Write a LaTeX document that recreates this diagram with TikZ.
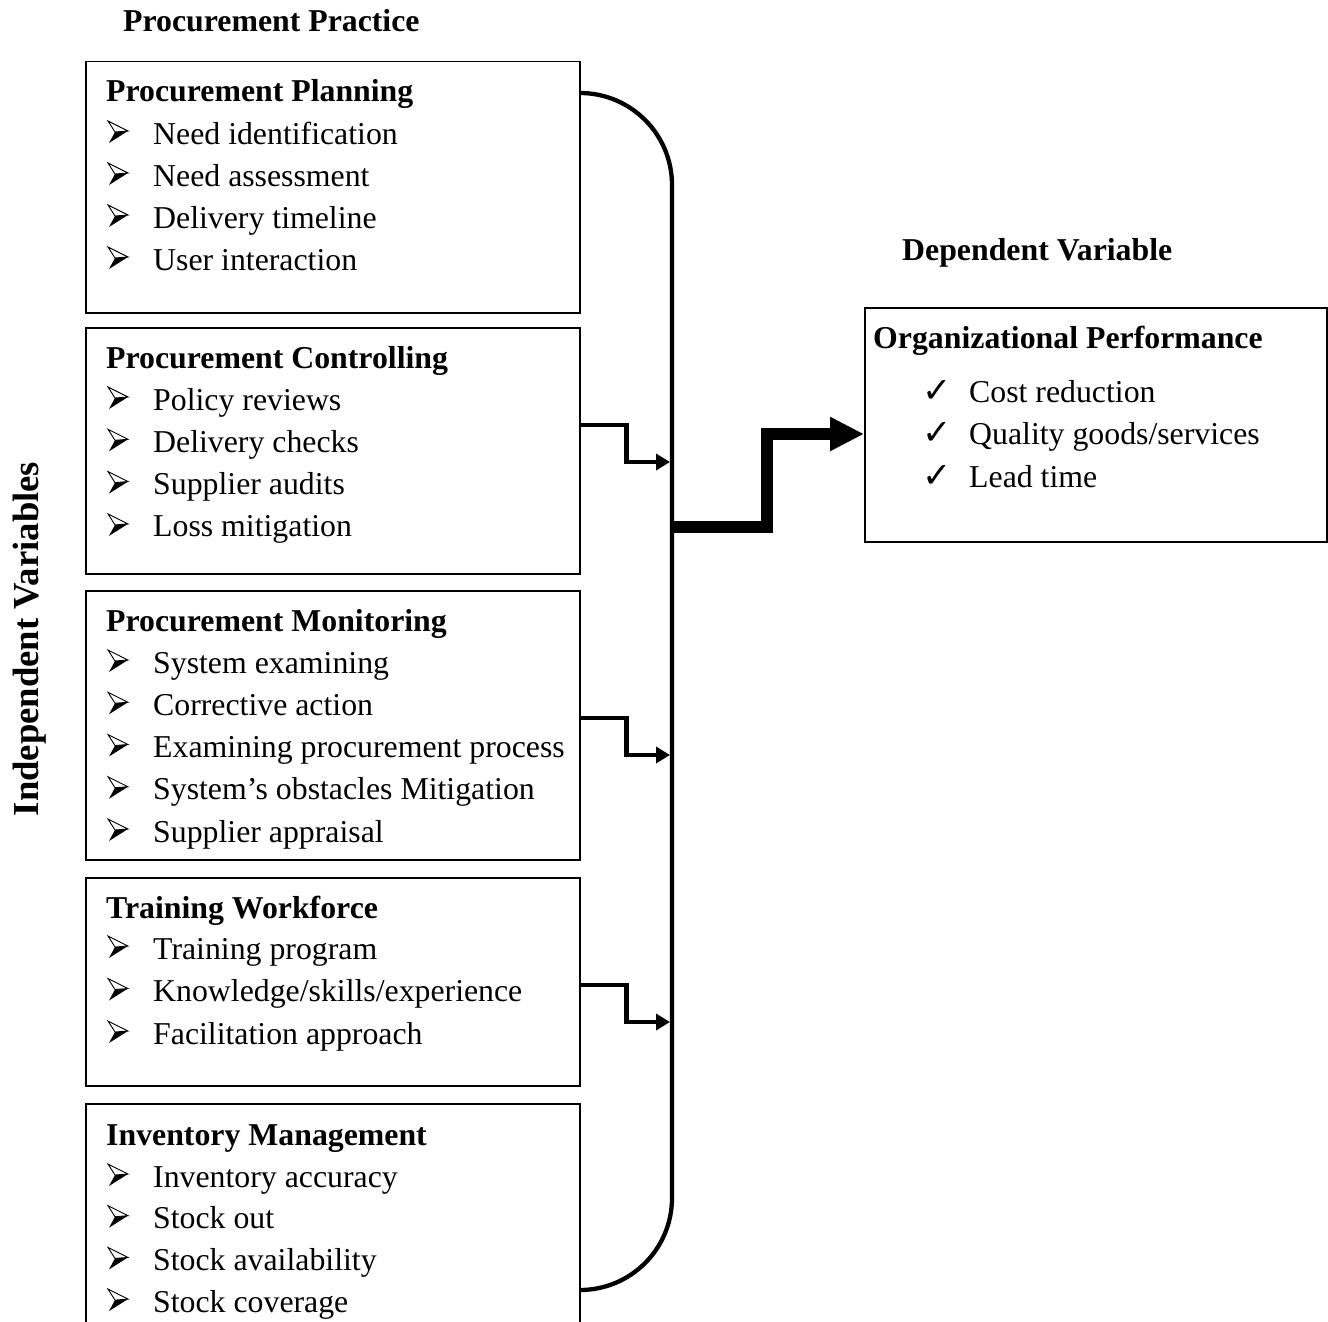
\documentclass[tikz,border=0pt]{standalone}
\usepackage{fontspec}
\setmainfont{Liberation Serif}
\newfontfamily\symfont{DejaVu Sans}
\usetikzlibrary{arrows.meta,calc}
\begin{document}
\begin{tikzpicture}[x=1pt,y=-1pt,
  box/.style={draw,line width=1.5pt,minimum width=494pt,anchor=north west,inner sep=0pt},
  txt/.style={anchor=base west,inner sep=0pt,font=\fontsize{31.8}{38}\selectfont},
  ttl/.style={anchor=base west,inner sep=0pt,font=\fontsize{31.8}{38}\selectfont\bfseries},
  chk/.style={anchor=base west,inner sep=0pt,font=\fontsize{35}{38}\symfont},
  conn/.style={line width=4.3pt},
  small/.style={line width=4.3pt,line join=miter,-{Triangle[length=14pt,width=16pt]}},
  big/.style={line width=12pt,line join=miter,-{Triangle[length=34pt,width=32pt]}},
  arrb/.pic={
    \fill[black,line join=round] (8,-12) -- (21,-13) -- (2,-1) -- cycle;
    \draw[line width=0.9pt,fill=white,line join=miter] (1,-23) -- (21,-13) -- (8,-12) -- cycle;
  }]
\useasboundingbox (0,0) rectangle (1328,1322);
\clip (0,0) rectangle (1328,1322);

% headers
\node[ttl] (hpp) at (123,32) {Procurement Practice};
\node[ttl] (hdv) at (902,260) {Dependent Variable};
\node[inner sep=0pt,rotate=90,font=\fontsize{36.7}{40}\selectfont\bfseries] (hiv) at (30,639) {Independent Variables};

% boxes
\node[box,minimum height=251pt] (b1) at (85,61) {};
\node[box,minimum height=246pt] (b2) at (85,327) {};
\node[box,minimum height=269pt] (b3) at (85,590) {};
\node[box,minimum height=208pt] (b4) at (85,877) {};
\node[box,minimum height=260pt] (b5) at (85,1103) {};
\node[draw,line width=1.5pt,minimum width=462pt,minimum height=234pt,anchor=north west,inner sep=0pt] (ob) at (864,307) {};

% box 1
\node[ttl] (t1) at (106,102) {Procurement Planning};
\foreach \t [count=\i] in {Need identification,Need assessment,Delivery timeline,User interaction}{
  \pic (a1b\i) at (107,{144+42*(\i-1)}) {arrb};
  \node[txt] (a1t\i) at (153,{144+42*(\i-1)}) {\t};
}
% box 2
\node[ttl] (t2) at (106,368) {Procurement Controlling};
\foreach \t [count=\i] in {Policy reviews,Delivery checks,Supplier audits,Loss mitigation}{
  \pic (a2b\i) at (107,{410+42.3*(\i-1)}) {arrb};
  \node[txt] (a2t\i) at (153,{410+42.3*(\i-1)}) {\t};
}
% box 3
\node[ttl] (t3) at (106,631) {Procurement Monitoring};
\foreach \t [count=\i] in {System examining,Corrective action,Examining procurement process,System’s obstacles Mitigation,Supplier appraisal}{
  \pic (a3b\i) at (107,{673+42.25*(\i-1)}) {arrb};
  \node[txt] (a3t\i) at (153,{673+42.25*(\i-1)}) {\t};
}
% box 4
\node[ttl] (t4) at (106,918) {Training Workforce};
\foreach \t [count=\i] in {Training program,Knowledge/skills/experience,Facilitation approach}{
  \pic (a4b\i) at (107,{959+42.5*(\i-1)}) {arrb};
  \node[txt] (a4t\i) at (153,{959+42.5*(\i-1)}) {\t};
}
% box 5
\node[ttl] (t5) at (106,1145) {Inventory Management};
\foreach \t [count=\i] in {Inventory accuracy,Stock out,Stock availability,Stock coverage}{
  \pic (a5b\i) at (107,{1187+41.7*(\i-1)}) {arrb};
  \node[txt] (a5t\i) at (153,{1187+41.7*(\i-1)}) {\t};
}
% outcome box
\node[ttl] (to) at (873,348) {Organizational Performance};
\foreach \t [count=\i] in {Cost reduction,Quality goods/services,Lead time}{
  \node[chk] (ocb\i) at (922,{402+42.5*(\i-1)}) {✓};
  \node[txt] (oct\i) at (969,{402+42.5*(\i-1)}) {\t};
}

% connectors
\coordinate (busx) at (672,0);
\coordinate (s1) at ($(b1.north east)+(0,32)$);
\coordinate (s5) at ($(b5.north east)+(0,187)$);
\draw[conn,rounded corners=92pt] (s1) -- (s1 -| busx) -- (s5 -| busx) -- (s5);

\coordinate (c2) at ($(b2.north east)+(0,98)$);
\coordinate (e2) at (670,462);
\draw[small] (c2) -- ($(c2)+(46,0)$) |- (e2);
\coordinate (c3) at ($(b3.north east)+(0,128)$);
\coordinate (e3) at (670,755);
\draw[small] (c3) -- ($(c3)+(46,0)$) |- (e3);
\coordinate (c4) at ($(b4.north east)+(0,108)$);
\coordinate (e4) at (670,1022);
\draw[small] (c4) -- ($(c4)+(46,0)$) |- (e4);

\coordinate (bs) at (672,527);
\coordinate (be) at ($(ob.north west)+(0,127)$);
\draw[big] (bs) -- (767,527) -- (767,434) -- (be);
\end{tikzpicture}
\end{document}
